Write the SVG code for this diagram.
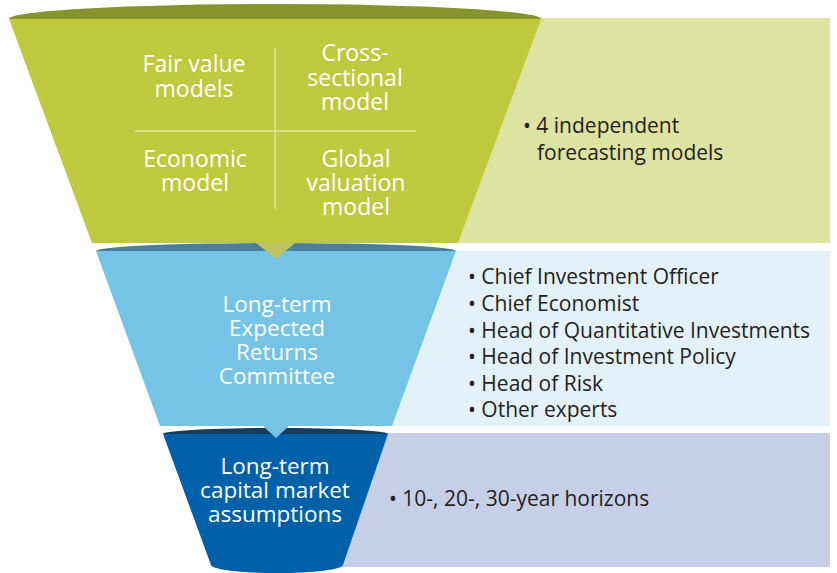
<svg xmlns="http://www.w3.org/2000/svg" width="837" height="573" viewBox="0 0 837 573">
<style>
.w{fill:#ffffff;font-family:"Open Sans","Liberation Sans",sans-serif;font-size:23px;text-anchor:middle}
.wb{fill:#ffffff;font-family:"Open Sans","Liberation Sans",sans-serif;font-size:22.5px;text-anchor:middle}
.d{fill:#231f20;font-family:"Open Sans","Liberation Sans",sans-serif;font-size:21px}
</style>
<rect width="837" height="573" fill="#ffffff"/>
<g id="panel-models">
<polygon points="540,18 830,18 830,243 458,243" fill="#dde3a0"/>
<text class="d" x="523" y="133">• 4 independent<tspan x="537" dy="27">forecasting models</tspan></text>
</g>
<g id="panel-committee">
<polygon points="456,251 830,251 830,426 392,426" fill="#e3f2fa"/>
<text class="d" x="468" y="284">• Chief Investment Officer<tspan x="468" dy="27">• Chief Economist</tspan><tspan x="468" dy="26.5">• Head of Quantitative Investments</tspan><tspan x="468" dy="26.5">• Head of Investment Policy</tspan><tspan x="468" dy="27">• Head of Risk</tspan><tspan x="468" dy="26">• Other experts</tspan></text>
</g>
<g id="panel-assumptions">
<polygon points="388,433 830,433 830,567 342,567" fill="#c5d0e7"/>
<text class="d" x="389" y="506">• 10-, 20-, 30-year horizons</text>
</g>
<g id="funnel-models">
<path d="M9,19 A266,15 0 0 1 541,19 Z" fill="#86942c"/>
<polygon points="9,19 541,19 458,243 92,243" fill="#bec93d"/>
<line x1="275" y1="48" x2="275" y2="209" stroke="#dfe6a5" stroke-width="1.5"/>
<line x1="135" y1="131" x2="416" y2="131" stroke="#dfe6a5" stroke-width="1.5"/>
<text class="w" x="194" y="72">Fair value<tspan x="194" dy="25">models</tspan></text>
<text class="w" x="355" y="61">Cross-<tspan x="355" dy="25">sectional</tspan><tspan x="355" dy="24">model</tspan></text>
<text class="w" x="195" y="167">Economic<tspan x="195" dy="24">model</tspan></text>
<text class="w" x="356" y="167">Global<tspan x="356" dy="24">valuation</tspan><tspan x="356" dy="24">model</tspan></text>
</g>
<g id="funnel-committee">
<path d="M96,251 A180,8 0 0 1 456,251 Z" fill="#4a7f9a"/>
<polygon points="96,251 456,251 392,426 160,426" fill="#75c4e6"/>
<text class="wb" x="277" y="312">Long-term<tspan x="277" dy="24">Expected</tspan><tspan x="277" dy="24">Returns</tspan><tspan x="277" dy="24">Committee</tspan></text>
</g>
<g id="funnel-assumptions">
<path d="M163,434 A112,6 0 0 1 388,434 Z" fill="#143c5c"/>
<path d="M163,434 L388,434 L343,565 A66,8 0 0 1 211,565 Z" fill="#0061a8"/>
<text class="wb" x="275" y="474">Long-term<tspan x="275" dy="24">capital market</tspan><tspan x="275" dy="24">assumptions</tspan></text>
</g>
<g id="connectors">
<polygon points="256,243 295,243 276,259" fill="#bcc45f"/>
<polygon points="263,426 289,426 276,438" fill="#75c4e6"/>
</g>
</svg>
